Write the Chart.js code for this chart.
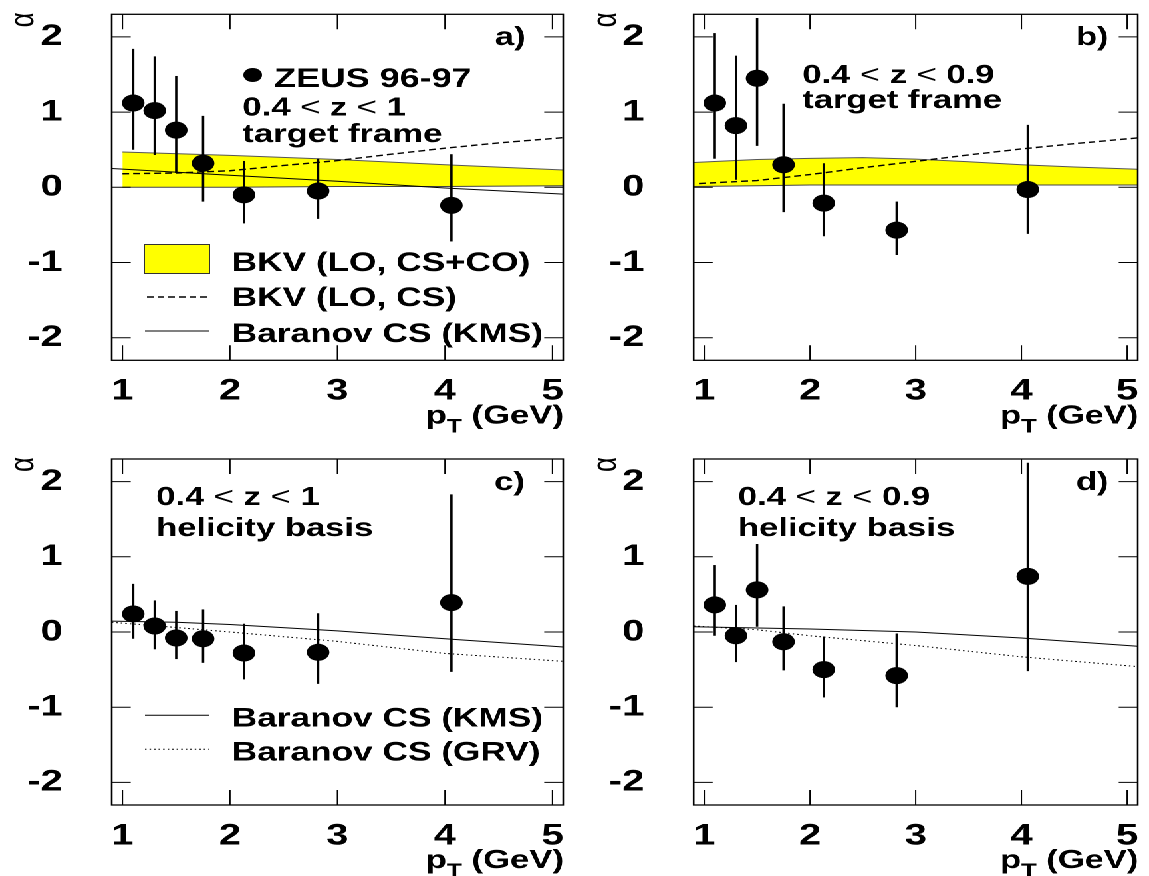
<!DOCTYPE html>
<html>
<head>
<meta charset="utf-8">
<title>alpha vs pT</title>
<script src="https://cdn.jsdelivr.net/npm/chart.js@4.4.1/dist/chart.umd.min.js"></script>
<style>
  html, body { margin: 0; padding: 0; background: #fff; overflow: hidden; }
  /* the four panels are laid out narrow and widened as a whole */
  #page { position: absolute; left: 0; top: 0; width: 864px; height: 876px;
          transform: scaleX(1.3299); transform-origin: 0 0; }
  #page canvas { position: absolute; display: block; }
</style>
</head>
<body>
<div id="page">
  <canvas id="panelA" width="432" height="438" style="left:0px;top:0px"></canvas>
  <canvas id="panelB" width="432" height="438" style="left:432px;top:0px"></canvas>
  <canvas id="panelC" width="432" height="438" style="left:0px;top:438px"></canvas>
  <canvas id="panelD" width="432" height="438" style="left:432px;top:438px"></canvas>
</div>
<script>
const FONT = "'Liberation Sans', Arial, Helvetica, sans-serif";

const ptX = [1.1, 1.3, 1.5, 1.75, 2.13, 2.82, 4.06];
const xTicks = [1, 2, 3, 4, 5];
const yTicks = [-2, -1, 0, 1, 2];

// a) 0.4 < z < 1, target frame
const aVal = [1.12, 1.02, 0.76, 0.32, -0.10, -0.05, -0.24];
const aHi  = [1.84, 1.74, 1.48, 0.95, 0.35, 0.38, 0.44];
const aLo  = [0.50, 0.43, 0.19, -0.19, -0.48, -0.42, -0.72];
const aBandX  = [1.0, 2, 3, 4, 5.1];
const aBandHi = [0.47, 0.425, 0.37, 0.30, 0.23];
const aBandLo = [0.0, 0.0, 0.01, 0.01, 0.02];
const aCsX = [1.0, 1.5, 2, 2.5, 3, 3.5, 4, 4.5, 5.1];
const aCsY = [0.18, 0.19, 0.22, 0.29, 0.355, 0.44, 0.52, 0.59, 0.66];
const aKmsX = [0.9, 2, 3, 4, 5.1];
const aKmsY = [0.25, 0.16, 0.08, -0.01, -0.09];

// b) 0.4 < z < 0.9, target frame
const bVal = [1.12, 0.82, 1.45, 0.30, -0.21, -0.57, -0.03];
const bHi  = [2.05, 1.75, 2.25, 1.11, 0.32, -0.19, 0.83];
const bLo  = [0.38, 0.10, 0.55, -0.33, -0.65, -0.90, -0.62];
const bBandX  = [0.9, 1.5, 2, 2.5, 3, 3.5, 4, 4.5, 5.1];
const bBandHi = [0.33, 0.37, 0.385, 0.395, 0.375, 0.34, 0.30, 0.27, 0.24];
const bBandLo = [0.01, 0.02, 0.03, 0.03, 0.03, 0.03, 0.03, 0.03, 0.03];
const bCsX = [0.95, 1.5, 2, 2.5, 3, 3.5, 4, 4.5, 5.1];
const bCsY = [0.05, 0.09, 0.17, 0.26, 0.345, 0.43, 0.51, 0.58, 0.657];

// c) 0.4 < z < 1, helicity basis
const cVal = [0.24, 0.08, -0.08, -0.09, -0.28, -0.27, 0.39];
const cHi  = [0.64, 0.42, 0.28, 0.30, 0.11, 0.25, 1.83];
const cLo  = [-0.09, -0.23, -0.36, -0.41, -0.63, -0.69, -0.53];
const cKmsX = [0.9, 1.5, 2, 3, 4, 5.1];
const cKmsY = [0.145, 0.13, 0.10, 0.015, -0.09, -0.20];
const cGrvX = [0.9, 1.5, 2, 3, 4, 5.1];
const cGrvY = [0.13, 0.06, 0.0, -0.125, -0.285, -0.39];

// d) 0.4 < z < 0.9, helicity basis
const dVal = [0.36, -0.05, 0.56, -0.13, -0.50, -0.58, 0.74];
const dHi  = [0.89, 0.36, 1.17, 0.34, -0.06, -0.02, 2.25];
const dLo  = [-0.05, -0.40, 0.07, -0.51, -0.87, -1.00, -0.52];
const dKmsX = [0.9, 2, 3, 4, 5.1];
const dKmsY = [0.07, 0.04, 0.0, -0.08, -0.19];
const dGrvX = [0.9, 1.5, 2, 3, 4, 5.1];
const dGrvY = [0.08, 0.03, -0.05, -0.18, -0.33, -0.46];

const DASH = [5, 3];
const DOT = [1.2, 2.2];
const YELLOW = '#ffff00';

const B26 = 'bold 26px ' + FONT;
const B27 = 'bold 27px ' + FONT;
const N26 = '26px ' + FONT;
const BLEG = 'bold 26.5px ' + FONT;

function xy(xs, ys) {
  return xs.map((x, i) => ({ x: x, y: ys[i] }));
}

function pointSet(ys) {
  return { data: xy(ptX, ys), showLine: false, pointRadius: 8.5,
    pointBackgroundColor: '#000', pointBorderWidth: 0, pointStyle: 'circle' };
}

function lineSet(xs, ys, dash) {
  const dashed = dash === DASH;
  return { data: xy(xs, ys), showLine: true, borderColor: '#000', borderWidth: dashed ? 1.4 : 1,
    borderDash: dash || [], pointRadius: 0, fill: false, tension: 0 };
}

function bandSets(xs, lo, hi, loIndex) {
  return [
    { data: xy(xs, lo), showLine: true, borderColor: '#444', borderWidth: 1, pointRadius: 0, fill: false },
    { data: xy(xs, hi), showLine: true, borderColor: '#555', borderWidth: 1, pointRadius: 0,
      fill: loIndex, backgroundColor: YELLOW }
  ];
}

function rich(ctx, parts, x, y, align) {
  let w = 0;
  parts.forEach(p => { ctx.font = p[1]; w += ctx.measureText(p[0]).width; });
  let cx = align === 'right' ? x - w : x;
  ctx.textAlign = 'left';
  ctx.textBaseline = 'alphabetic';
  parts.forEach(p => {
    ctx.font = p[1];
    ctx.fillText(p[0], cx, y + (p[2] || 0));
    cx += ctx.measureText(p[0]).width;
  });
}

function zRange(upper) {
  return [['0.4 ', B26], ['<', N26], [' z ', B26], ['<', N26], [' ' + upper, B26]];
}

function makeDecor(spec) {
  return {
    id: 'decor',
    afterDatasetsDraw(chart) {
      const ctx = chart.ctx, xs = chart.scales.x, ys = chart.scales.y;
      ctx.save();
      ctx.strokeStyle = '#000';
      ctx.lineWidth = 1.8;
      spec.hi.forEach((h, i) => {
        const px = xs.getPixelForValue(ptX[i]);
        ctx.beginPath();
        ctx.moveTo(px, ys.getPixelForValue(spec.lo[i]));
        ctx.lineTo(px, ys.getPixelForValue(h));
        ctx.stroke();
      });
      ctx.restore();
    },
    afterDraw(chart) {
      const ctx = chart.ctx, xs = chart.scales.x, ys = chart.scales.y;
      const { left, right, top, bottom } = chart.chartArea;
      ctx.save();
      ctx.strokeStyle = '#000';
      ctx.fillStyle = '#000';

      // frame and inward ticks on all four sides
      ctx.lineWidth = 1.3;
      ctx.strokeRect(left, top, right - left, bottom - top);
      ctx.lineWidth = 1;
      ctx.beginPath();
      xTicks.forEach(v => {
        const px = xs.getPixelForValue(v);
        ctx.moveTo(px, bottom); ctx.lineTo(px, bottom - 15);
        ctx.moveTo(px, top); ctx.lineTo(px, top + 15);
      });
      yTicks.forEach(v => {
        const py = ys.getPixelForValue(v);
        ctx.moveTo(left, py); ctx.lineTo(left + 14.3, py);
        ctx.moveTo(right, py); ctx.lineTo(right - 14.3, py);
      });
      ctx.stroke();

      // axis titles
      ctx.save();
      ctx.translate(left - 66, top - 2);
      ctx.rotate(-Math.PI / 2);
      ctx.font = '26px ' + FONT;
      ctx.textAlign = 'right';
      ctx.textBaseline = 'middle';
      ctx.fillText('\u03b1', 0, 0);
      ctx.restore();
      rich(ctx, [['p', B26], ['T', 'bold 19px ' + FONT, 9], [' (GeV)', B26]], right + 0.5, bottom + 63, 'right');

      // legend samples
      (spec.marks || []).forEach(m => {
        ctx.save();
        if (m.kind === 'box') {
          ctx.fillStyle = YELLOW;
          ctx.fillRect(m.x0, m.y - 14.5, m.x1 - m.x0, 29);
          ctx.strokeStyle = '#333';
          ctx.lineWidth = 1;
          ctx.strokeRect(m.x0, m.y - 14.5, m.x1 - m.x0, 29);
        } else if (m.kind === 'dot') {
          ctx.beginPath();
          ctx.arc(m.x0, m.y, 7, 0, Math.PI * 2);
          ctx.fill();
        } else {
          ctx.lineWidth = m.kind === 'dash' ? 1.4 : 1;
          ctx.strokeStyle = '#000';
          ctx.setLineDash(m.kind === 'dash' ? DASH : m.kind === 'dotted' ? DOT : []);
          ctx.beginPath();
          ctx.moveTo(m.x0, m.y);
          ctx.lineTo(m.x1, m.y);
          ctx.stroke();
        }
        ctx.restore();
      });

      spec.labels.forEach(l => rich(ctx, l.parts, l.x, l.y, l.align));
      ctx.restore();
    }
  };
}

function makePanel(id, box, datasets, spec) {
  const tickFont = { family: FONT, size: 30, weight: 'bold' };
  return new Chart(document.getElementById(id), {
    type: 'line',
    data: { datasets: datasets },
    options: {
      responsive: false,
      animation: false,
      devicePixelRatio: 2,
      events: [],
      layout: { padding: { left: 0, top: box.top, right: 432 - box.right, bottom: 0 } },
      plugins: { legend: { display: false }, tooltip: { enabled: false } },
      scales: {
        x: {
          type: 'linear', min: 0.9, max: 5.1,
          grid: { display: false }, border: { display: false },
          afterBuildTicks: s => { s.ticks = xTicks.map(v => ({ value: v })); },
          afterFit: s => {
            s.height = 438 - box.bottom;
            s.paddingLeft = 0; s.paddingRight = 0;
          },
          ticks: { font: tickFont, color: '#000', padding: 5, maxRotation: 0, autoSkip: false,
                   callback: v => String(v) }
        },
        y: {
          type: 'linear', min: -2.3, max: 2.3,
          grid: { display: false }, border: { display: false },
          afterBuildTicks: s => { s.ticks = yTicks.map(v => ({ value: v })); },
          afterFit: s => {
            s.width = box.left;
            s.paddingTop = 0; s.paddingBottom = 0;
          },
          ticks: { font: tickFont, color: '#000', padding: 29, callback: v => String(v) }
        }
      }
    },
    plugins: [makeDecor(spec)]
  });
}

// dataset 0 is drawn last, so the data points stay on top
makePanel('panelA', { left: 84, top: 14.3, right: 424.8, bottom: 360.3 }, [
  pointSet(aVal),
  lineSet(aKmsX, aKmsY),
  lineSet(aCsX, aCsY, DASH),
  ...bandSets(aBandX, aBandLo, aBandHi, 3)
], {
  lo: aLo, hi: aHi,
  marks: [
    { kind: 'dot', x0: 190, y: 75 },
    { kind: 'box', x0: 108.5, x1: 157.5, y: 259 },
    { kind: 'dash', x0: 110.5, x1: 157.5, y: 297 },
    { kind: 'solid', x0: 109, x1: 157.5, y: 331 }
  ],
  labels: [
    { parts: [['ZEUS 96-97', B27]], x: 206, y: 87 },
    { parts: zRange('1'), x: 182.3, y: 115.5 },
    { parts: [['target frame', B26]], x: 182.3, y: 142 },
    { parts: [['a)', B26]], x: 395.3, y: 45, align: 'right' },
    { parts: [['BKV (LO, CS+CO)', BLEG]], x: 174.2, y: 271 },
    { parts: [['BKV (LO, CS)', BLEG]], x: 174.2, y: 306 },
    { parts: [['Baranov CS (KMS)', BLEG]], x: 174.2, y: 342 }
  ]
});

makePanel('panelB', { left: 89.6, top: 14.3, right: 429.1, bottom: 360.3 }, [
  pointSet(bVal),
  lineSet(bCsX, bCsY, DASH),
  ...bandSets(bBandX, bBandLo, bBandHi, 2)
], {
  lo: bLo, hi: bHi,
  labels: [
    { parts: zRange('0.9'), x: 171.2, y: 83 },
    { parts: [['target frame', B26]], x: 171.2, y: 108 },
    { parts: [['b)', B26]], x: 401.5, y: 45, align: 'right' }
  ]
});

makePanel('panelC', { left: 84, top: 21, right: 424.8, bottom: 367 }, [
  pointSet(cVal),
  lineSet(cKmsX, cKmsY),
  lineSet(cGrvX, cGrvY, DOT)
], {
  lo: cLo, hi: cHi,
  marks: [
    { kind: 'solid', x0: 109, x1: 157.5, y: 277.3 },
    { kind: 'dotted', x0: 109, x1: 157.5, y: 311.3 }
  ],
  labels: [
    { parts: zRange('1'), x: 117.4, y: 67 },
    { parts: [['helicity basis', B26]], x: 117.4, y: 98 },
    { parts: [['c)', B26]], x: 394.7, y: 52, align: 'right' },
    { parts: [['Baranov CS (KMS)', BLEG]], x: 174.2, y: 288.7 },
    { parts: [['Baranov CS (GRV)', BLEG]], x: 174.2, y: 322.7 }
  ]
});

makePanel('panelD', { left: 89.6, top: 21, right: 429.1, bottom: 367 }, [
  pointSet(dVal),
  lineSet(dKmsX, dKmsY),
  lineSet(dGrvX, dGrvY, DOT)
], {
  lo: dLo, hi: dHi,
  labels: [
    { parts: zRange('0.9'), x: 122.9, y: 67 },
    { parts: [['helicity basis', B26]], x: 122.9, y: 98 },
    { parts: [['d)', B26]], x: 401.5, y: 52, align: 'right' }
  ]
});
</script>
</body>
</html>
